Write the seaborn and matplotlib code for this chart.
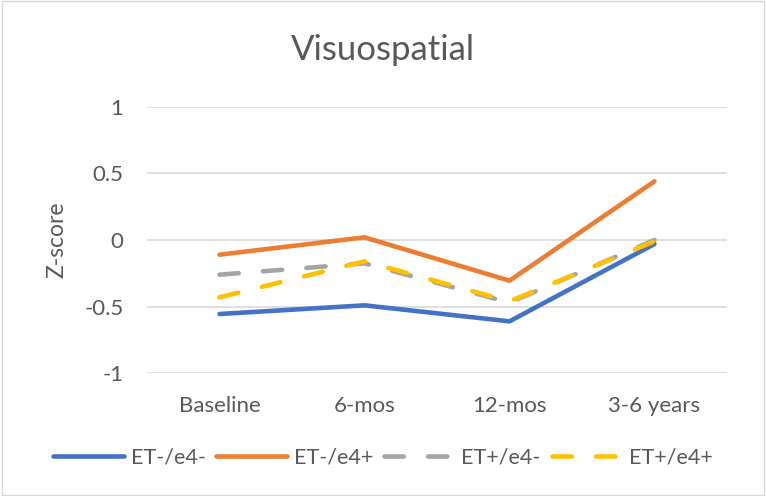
import matplotlib
matplotlib.use("Agg")
import matplotlib.pyplot as plt
import seaborn as sns
import pandas as pd
from matplotlib.patches import Rectangle

times = ["Baseline", "6-mos", "12-mos", "3-6 years"]
groups = ["ET-/e4-", "ET-/e4+", "ET+/e4-", "ET+/e4+"]
et_neg_e4_neg = [-0.555, -0.49, -0.61, -0.03]
et_neg_e4_pos = [-0.11, 0.02, -0.305, 0.44]
et_pos_e4_neg = [-0.26, -0.175, -0.47, 0.0]
et_pos_e4_pos = [-0.43, -0.16, -0.46, -0.01]
yticks = [-1, -0.5, 0, 0.5, 1]
ytick_labels = ["-1", "-0.5", "0", "0.5", "1"]

series = [et_neg_e4_neg, et_neg_e4_pos, et_pos_e4_neg, et_pos_e4_pos]
rows = []
for g, vals in zip(groups, series):
    for t, v in zip(times, vals):
        rows.append({"time": t, "z": v, "group": g})
df = pd.DataFrame(rows)

colors = {"ET-/e4-": "#4472C4", "ET-/e4+": "#ED7D31", "ET+/e4-": "#A5A5A5", "ET+/e4+": "#FFC000"}
dashes = {"ET-/e4-": "", "ET-/e4+": "", "ET+/e4-": (4.2, 5.3), "ET+/e4+": (4.2, 5.3)}

sns.set_style("white")
plt.rcParams["font.family"] = ["Lato", "DejaVu Sans"]

fig = plt.figure(figsize=(7.66, 4.96), dpi=100)
ax = fig.add_axes([0.192, 0.2473, 0.757, 0.5376])

sns.lineplot(data=df, x="time", y="z", hue="group", style="group",
             palette=colors, dashes=dashes, hue_order=groups, style_order=groups,
             linewidth=3.3, sort=False, ax=ax, legend=True)
for ln in ax.get_lines():
    ln.set_solid_capstyle("round")
    ln.set_dash_capstyle("round")
handles, labels = ax.get_legend_handles_labels()
ax.get_legend().remove()
for h in handles:
    h.set_linewidth(3.3)
    h.set_solid_capstyle("round")
    h.set_dash_capstyle("round")

ax.set_xlim(-0.5, 3.5)
ax.set_ylim(-1, 1)
ax.set_yticks(yticks)
ax.set_yticklabels(ytick_labels)
ax.grid(axis="y", color="#D9D9D9", linewidth=1.2)
ax.set_axisbelow(True)
for s in ax.spines.values():
    s.set_visible(False)
ax.tick_params(axis="both", length=0, labelsize=16, labelcolor="#595959")
ax.tick_params(axis="y", pad=17)
ax.tick_params(axis="x", pad=16)
ax.set_xlabel("")
ax.set_ylabel("Z-score", fontsize=16.5, color="#595959", labelpad=12)
fig.text(0.5, 1 - 50 / 496, "Visuospatial", fontsize=25, color="#595959",
         ha="center", va="center")

fig.legend(handles, labels, loc="center", bbox_to_anchor=(0.5, 1 - 458 / 496), ncol=4,
           frameon=False, fontsize=15.5, labelcolor="#595959", handlelength=3.3,
           columnspacing=0.5, handletextpad=0.3)

fig.patches.append(Rectangle((0.002, 0.002), 0.996, 0.996, transform=fig.transFigure,
                             fill=False, edgecolor="#D9D9D9", linewidth=1))
fig.savefig("out.png", dpi=100)
